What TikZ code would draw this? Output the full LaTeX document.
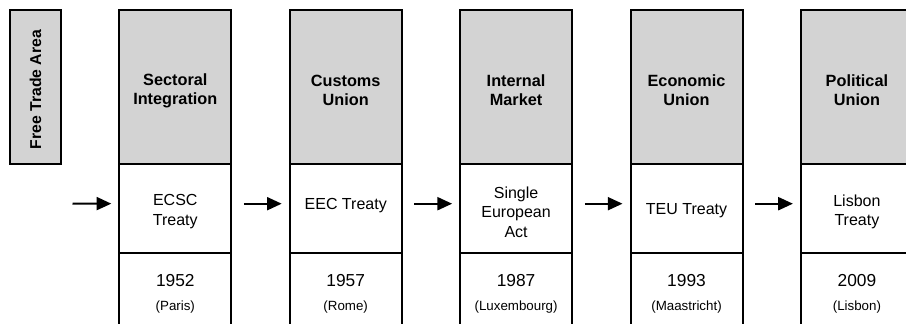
\documentclass[tikz,border=0pt]{standalone}
\usepackage{fontspec}
\setmainfont{Liberation Sans}
\usetikzlibrary{arrows.meta}
\definecolor{stagegray}{RGB}{211,211,211}
\begin{document}
\begin{tikzpicture}[x=0.75pt,y=-0.75pt,
  frame/.style={draw=black, line width=1.5pt, rectangle, inner sep=0pt, outer sep=0pt, minimum width=84pt},
  stage/.style={frame, fill=stagegray, minimum height=115.5pt},
  treatybox/.style={frame, minimum height=66.75pt},
  yearbox/.style={frame, minimum height=69pt},
  stagetext/.style={align=center, font=\fontsize{12.2}{14.5}\selectfont\bfseries},
  treatytext/.style={align=center, font=\fontsize{12}{14.5}\selectfont},
  yeartext/.style={anchor=base, font=\fontsize{13}{15}\selectfont},
  placetext/.style={anchor=base, font=\fontsize{10}{12}\selectfont},
  flow/.style={line width=1.5pt, -{Triangle[length=11pt,width=9.75pt]}}
]
\useasboundingbox (0,0) rectangle (906,324);
\clip (0,0) rectangle (906,324);

% starting stage, label set vertically
\node[frame, fill=stagegray, minimum width=38.25pt, minimum height=115.5pt] (fta) at (35.5,87) {};
\node[rotate=90, font=\fontsize{11.8}{14}\selectfont\bfseries] (ftalabel) at ([yshift=-2pt]fta.center) {Free Trade Area};

% one column per integration stage: stage / treaty / year and place
\foreach \i/\stagename/\treaty/\ty/\yr/\place in {
  1/{Sectoral\\Integration}/{ECSC\\Treaty}/211.5/1952/(Paris),
  2/{Customs\\Union}/{EEC Treaty}/205.5/1957/(Rome),
  3/{Internal\\Market}/{Single\\European\\Act}/212/1987/(Luxembourg),
  4/{Economic\\Union}/{TEU Treaty}/211/1993/(Maastricht),
  5/{Political\\Union}/{Lisbon\\Treaty}/212/2009/(Lisbon)} {
  \pgfmathsetmacro{\cx}{175.3+170.4*(\i-1)}
  \node[yearbox] (y\i) at (\cx,299) {};
  \node[treatybox] (t\i) at (\cx,208.5) {};
  \node[stage] (h\i) at (\cx,87) {};
  \node[stagetext] (hl\i) at (\cx,90.5) {\stagename};
  \node[treatytext] (tl\i) at (\cx,\ty) {\treaty};
  \node[yeartext] (yl\i) at (\cx,286.7) {\yr};
  \node[placetext] (pl\i) at (\cx,310) {\place};
}

% arrows between the stages
\coordinate (entry) at (72.5,203.5);
\draw[flow, shorten >=6pt] (entry) -- ([yshift=3.6pt]t1.west);
\foreach \i/\j in {1/2,2/3,3/4,4/5}
  \draw[flow, shorten <=9.5pt, shorten >=6pt] ([yshift=3.6pt]t\i.east) -- ([yshift=3.6pt]t\j.west);
\end{tikzpicture}
\end{document}
